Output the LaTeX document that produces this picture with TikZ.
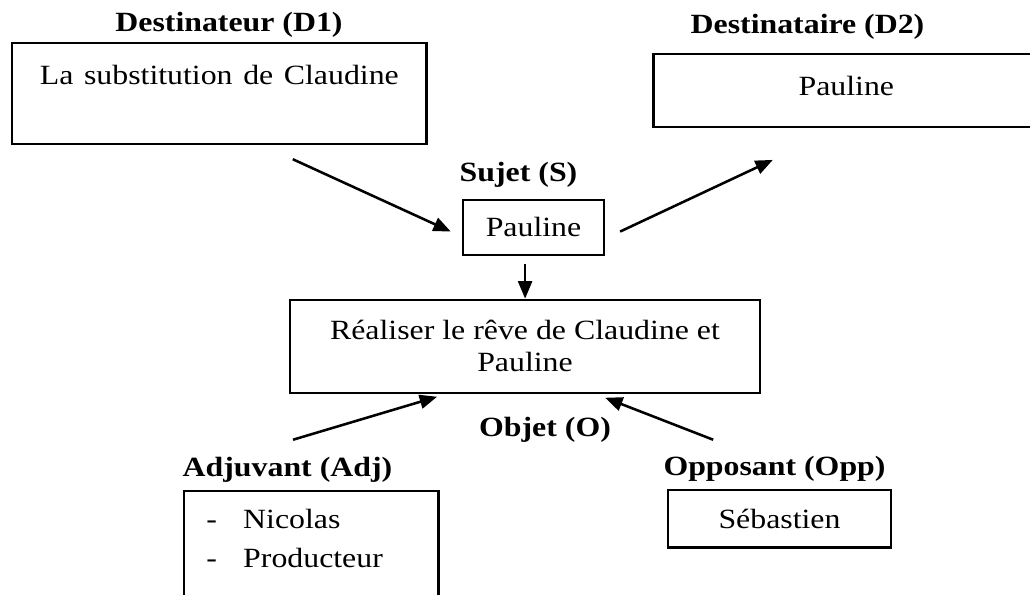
\documentclass[tikz,border=0pt]{standalone}
\usepackage{fontspec}
\setmainfont{Liberation Serif}
\usetikzlibrary{arrows.meta,positioning}

\newcommand{\taille}{\fontsize{12}{13.8}\selectfont}

\tikzset{
  every node/.style={font=\taille},
  box/.style={draw, line width=1pt, inner sep=0pt, align=center},
  lab/.style={font=\taille\bfseries, anchor=base, inner sep=0pt},
  fleche/.style={line width=1.1pt, -{Triangle[length=7.5pt,width=6pt]}}
}

\begin{document}
\begin{tikzpicture}[x=0.377pt, y=-0.431pt, xscale=1.144, transform shape]
    \useasboundingbox (0,0) rectangle (1030,595);
    \clip (0,0) rectangle (1030,595);

    \node[box, anchor=north west, text width=156.1pt, text height=17.7pt, text depth=25.9pt] (D1) at (11,42) {La substitution de Claudine};
    \node[box, anchor=north west, text width=145.5pt, text height=17.7pt, text depth=13.8pt] (D2) at (652,53) {Pauline};
    \node[box, minimum width=53.2pt, minimum height=23.7pt] (S) at (533.5,227.5) {Pauline};
    \node[box, minimum width=177.2pt, minimum height=40.1pt] (O) at (525,346.5) {R\'ealiser le r\^eve de Claudine et\\Pauline};
    \node[box, anchor=north west, text height=16.4pt, text depth=40pt] (Adj) at (183,490)
        {\parbox[t]{95.8pt}{\fontsize{12}{16.8}\selectfont
         \hspace*{8.3pt}\makebox[13.9pt][l]{-}Nicolas\\
         \hspace*{8.3pt}\makebox[13.9pt][l]{-}Producteur}};
    \node[box, minimum width=84.1pt, minimum height=25pt] (Opp) at (779.5,519) {S\'ebastien};

    \node[lab] (D1l) at (229,32) {Destinateur (D1)};
    \node[lab] (D2l) at (807.5,33.3) {Destinataire (D2)};
    \node[lab] (Sl) at (518.5,181.7) {Sujet (S)};
    \node[lab] (Ol) at (545,437) {Objet (O)};
    \node[lab] (Adjl) at (287.5,476.7) {Adjuvant (Adj)};
    \node[lab] (Oppl) at (774.5,476) {Opposant (Opp)};

    \coordinate (d1a) at (292.7,159.3);
    \coordinate (s1) at (450.7,231.7);
    \coordinate (s2) at (620,231.7);
    \coordinate (d2a) at (772.7,160);
    \coordinate (adja) at (293,440);
    \coordinate (o1) at (437,397);
    \coordinate (oppa) at (713,440);
    \coordinate (o2) at (605,398);

    \draw[fleche] (d1a) -- (s1);
    \draw[fleche] (s2) -- (d2a);
    \draw[fleche, shorten <=3.5pt] (S.south -| O.north) -- (O.north);
    \draw[fleche] (adja) -- (o1);
    \draw[fleche] (oppa) -- (o2);
\end{tikzpicture}
\end{document}
